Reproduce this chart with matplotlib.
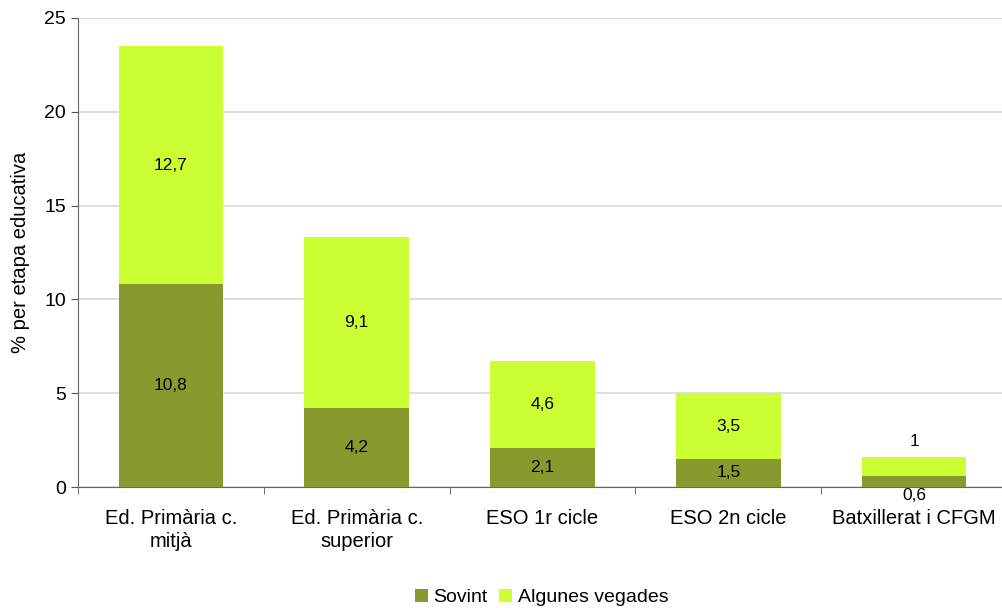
import matplotlib.pyplot as plt
import numpy as np
from matplotlib.ticker import FixedLocator

plt.rcParams['font.family'] = ['Liberation Sans', 'DejaVu Sans']

categories = ['Ed. Primària c.\nmitjà', 'Ed. Primària c.\nsuperior', 'ESO 1r cicle',
              'ESO 2n cicle', 'Batxillerat i CFGM']
sovint = [10.8, 4.2, 2.1, 1.5, 0.6]
algunes = [12.7, 9.1, 4.6, 3.5, 1]
sovint_labels = ['10,8', '4,2', '2,1', '1,5', '0,6']
algunes_labels = ['12,7', '9,1', '4,6', '3,5', '1']

fig = plt.figure(figsize=(10.03, 6.08), dpi=100)
ax = fig.add_axes([78 / 1003, 1 - 487 / 608, (1007 - 78) / 1003, (487 - 18) / 608])

x = np.arange(len(categories))
w = 0.5625
ax.bar(x, sovint, w, color='#889A2E', label='Sovint', zorder=3)
ax.bar(x, algunes, w, bottom=sovint, color='#CCFF33', label='Algunes vegades', zorder=3)

for i in range(len(categories)):
    if sovint[i] < 1:
        ax.text(x[i], -0.45, sovint_labels[i], ha='center', va='center', fontsize=12.5)
        ax.text(x[i], sovint[i] + algunes[i] + 0.8, algunes_labels[i], ha='center', va='center', fontsize=12.5)
    else:
        ax.text(x[i], sovint[i] / 2, sovint_labels[i], ha='center', va='center', fontsize=12.5)
        ax.text(x[i], sovint[i] + algunes[i] / 2, algunes_labels[i], ha='center', va='center', fontsize=12.5)

ax.set_xlim(-0.5, len(categories) - 0.5)
ax.set_ylim(0, 25)
ax.set_yticks([0, 5, 10, 15, 20, 25])
ax.yaxis.grid(True, color='#D9D9D9', linewidth=1.2, zorder=0)
ax.set_ylabel('% per etapa educativa', fontsize=14.5)
ax.yaxis.set_label_coords(-0.052, 0.5)

ax.set_xticks(x)
ax.set_xticklabels(categories, fontsize=14.5, linespacing=1.25)
ax.tick_params(axis='x', length=0, pad=16)
ax.xaxis.set_minor_locator(FixedLocator(np.arange(-0.5, len(categories), 1.0)))
ax.tick_params(axis='x', which='minor', length=5, color='#555555')
ax.tick_params(axis='y', labelsize=14, length=5, color='#555555')

for s in ['top', 'right']:
    ax.spines[s].set_visible(False)
for s in ['left', 'bottom']:
    ax.spines[s].set_color('#666666')

fig.legend(loc='lower center', bbox_to_anchor=(0.5 + 0.04, -0.026), ncol=2, frameon=False,
           fontsize=14, handlelength=0.65, handleheight=0.65, handletextpad=0.3, columnspacing=0.6)

fig.savefig('out.png', dpi=100)
